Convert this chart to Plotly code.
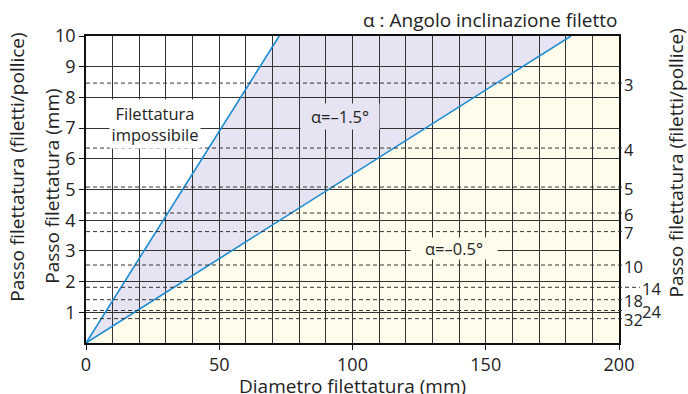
import plotly.graph_objects as go

# Axis extents
diam_range = [0, 200]
pitch_range = [0, 10]
x_ticks = [0, 50, 100, 150, 200]
y_ticks = [1, 2, 3, 4, 5, 6, 7, 8, 9, 10]

# Limit lines for the inclination angle (diameter mm -> pitch mm)
steep_d = [0, 72.5]
steep_p = [0, 10]
shallow_d = [0, 182]
shallow_p = [0, 10]

# Inch threads: threads per inch and the equivalent pitch in mm
tpi = [3, 4, 5, 6, 7, 10, 14, 18, 24, 32]
tpi_pitch = [25.4 / n for n in tpi]

BLUE = "#1b8bd0"
LAVENDER = "#e6e4f3"
CREAM = "#fffcec"
GRID = "#333333"
FONT = "Open Sans"
TXT = "#222222"

fig = go.Figure()

# Shaded regions (drawn beneath the grid)
fig.add_shape(
    type="path", xref="x", yref="y", layer="below",
    path=(f"M {shallow_d[0]},{shallow_p[0]} L {shallow_d[1]},{shallow_p[1]} "
          f"L {diam_range[1]},{pitch_range[1]} L {diam_range[1]},{pitch_range[0]} Z"),
    fillcolor=CREAM, line=dict(width=0),
)
fig.add_shape(
    type="path", xref="x", yref="y", layer="below",
    path=(f"M {steep_d[0]},{steep_p[0]} L {steep_d[1]},{steep_p[1]} "
          f"L {shallow_d[1]},{shallow_p[1]} Z"),
    fillcolor=LAVENDER, line=dict(width=0),
)

# Dashed reference lines for inch pitches
for n, p in zip(tpi, tpi_pitch):
    x_end = 1.039 if n == 14 else 1.012
    fig.add_shape(
        type="line", xref="paper", yref="y", x0=0, x1=x_end, y0=p, y1=p,
        line=dict(color=GRID, width=1, dash="4px,3px"), layer="above",
    )

# Angle limit lines
fig.add_trace(go.Scatter(x=steep_d, y=steep_p, mode="lines",
                         line=dict(color=BLUE, width=1.6), showlegend=False,
                         hoverinfo="skip"))
fig.add_trace(go.Scatter(x=shallow_d, y=shallow_p, mode="lines",
                         line=dict(color=BLUE, width=1.6), showlegend=False,
                         hoverinfo="skip"))

annotations = []

# Threads-per-inch labels on the right edge
label_shift = {14: 18, 24: 18}
for n, p in zip(tpi, tpi_pitch):
    annotations.append(dict(
        x=1.0, xref="paper", y=p, yref="y", text=str(n), showarrow=False,
        xanchor="left", yanchor="middle", xshift=3 + label_shift.get(n, 0),
        yshift=-1, font=dict(family=FONT, size=16.5, color=TXT),
    ))

# Region labels (boxes hide the grid behind the text)
annotations.append(dict(
    x=25.9, y=7.14, xref="x", yref="y", text="Filettatura<br>impossibile",
    showarrow=False, bgcolor="white", borderpad=0, width=90, height=48,
    font=dict(family=FONT, size=16.5, color=TXT),
))
annotations.append(dict(
    x=95.2, y=7.39, xref="x", yref="y", text="α=–1.5°",
    showarrow=False, bgcolor=LAVENDER, borderpad=0, width=78, height=25,
    font=dict(family=FONT, size=16.5, color=TXT),
))
annotations.append(dict(
    x=138, y=3.09, xref="x", yref="y", text="α=–0.5°",
    showarrow=False, bgcolor=CREAM, borderpad=0, width=86, height=21,
    font=dict(family=FONT, size=16.5, color=TXT),
))

# Titles
annotations.append(dict(
    x=1.0, y=1.052, xref="paper", yref="paper", text="α : Angolo inclinazione filetto",
    showarrow=False, xanchor="right", yanchor="middle",
    font=dict(family=FONT, size=19, color=TXT),
))
annotations.append(dict(
    x=0.5, y=-0.14, xref="paper", yref="paper", text="Diametro filettatura (mm)",
    showarrow=False, xanchor="center", yanchor="middle",
    font=dict(family=FONT, size=19, color=TXT),
))
annotations.append(dict(
    x=-0.064, y=0.512, xref="paper", yref="paper", text="Passo filettatura (mm)",
    showarrow=False, textangle=-90, xanchor="center", yanchor="middle",
    font=dict(family=FONT, size=19, color=TXT),
))
annotations.append(dict(
    x=-0.129, y=0.572, xref="paper", yref="paper",
    text="Passo filettatura (filetti/pollice)",
    showarrow=False, textangle=-90, xanchor="center", yanchor="middle",
    font=dict(family=FONT, size=19, color=TXT),
))
annotations.append(dict(
    x=1.107, y=0.585, xref="paper", yref="paper",
    text="Passo filettatura (filetti/pollice)",
    showarrow=False, textangle=-90, xanchor="center", yanchor="middle",
    font=dict(family=FONT, size=19, color=TXT),
))

fig.update_layout(
    width=688, height=394,
    margin=dict(l=86, r=69, t=36, b=51, autoexpand=False),
    paper_bgcolor="white", plot_bgcolor="white",
    font=dict(family=FONT, size=17, color=TXT),
    showlegend=False,
    annotations=annotations,
    xaxis=dict(
        range=diam_range, tickvals=x_ticks, ticks="outside", ticklen=5,
        tickcolor="#111", tickwidth=1, showgrid=True, gridcolor=GRID, gridwidth=1,
        minor=dict(dtick=10, tick0=0, showgrid=True, gridcolor=GRID, gridwidth=1),
        showline=True, linecolor="#111", linewidth=1.5, mirror=True,
        zeroline=False, tickfont=dict(family=FONT, size=18, color=TXT),
    ),
    yaxis=dict(
        range=pitch_range, tickvals=y_ticks, ticks="outside", ticklen=5,
        tickcolor="#111", tickwidth=1, showgrid=True, gridcolor=GRID, gridwidth=1,
        showline=True, linecolor="#111", linewidth=1.5, mirror=True,
        zeroline=False, tickfont=dict(family=FONT, size=18, color=TXT),
    ),
)

fig.write_html("out.html")
